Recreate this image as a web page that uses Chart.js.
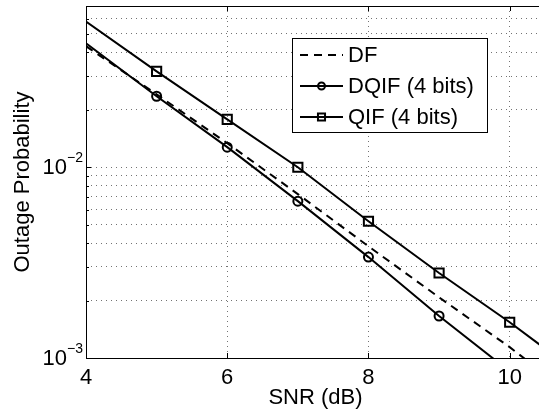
<!DOCTYPE html>
<html lang="en">
<head>
  <meta charset="UTF-8" />
  <title>Outage Probability vs SNR</title>
  <script src="https://cdn.jsdelivr.net/npm/chart.js"></script>
  <style>
    html, body { margin: 0; padding: 0; overflow: hidden; background: #fff; }
    #wrap { width: 539px; height: 416px; overflow: hidden; }
  </style>
</head>
<body>
  <div id="wrap"><canvas id="outageChart" width="545" height="416"></canvas></div>

  <script>
    // values
    const snr = [4, 5, 6, 7, 8, 9, 10, 10.5];
    const dfVals = [0.0431, 0.0241, 0.01337, 0.00723, 0.00385, 0.00208, 0.00114, 0.00082];
    const dqifVals = [0.0446, 0.02355, 0.01274, 0.00664, 0.00338, 0.00166, 0.00085, 0.00061];
    const qifVals = [0.058, 0.0318, 0.0178, 0.0100, 0.00521, 0.00279, 0.00154, 0.00112];
    const markerOn = [0, 1, 1, 1, 1, 1, 1, 0];

    const xTicks = [4, 6, 8, 10];
    const yTicks = [0.001, 0.002, 0.003, 0.004, 0.005, 0.006, 0.007, 0.008, 0.009,
                    0.01, 0.02, 0.03, 0.04, 0.05, 0.06, 0.07];
    const yDecades = [0.001, 0.01];
    const yExponents = ['\u22123', '\u22122'];

    const FONT = '"Liberation Sans", Arial, sans-serif';

    function pts(vals) {
      return snr.map((x, i) => ({ x: x, y: vals[i] }));
    }

    // frame, inward tick marks and 10^n labels
    const axesPlugin = {
      id: 'axesDeco',
      afterDraw(chart) {
        const ctx = chart.ctx;
        const a = chart.chartArea;
        const xs = chart.scales.x, ys = chart.scales.y;
        ctx.save();
        ctx.strokeStyle = '#000';
        ctx.lineWidth = 1;
        ctx.strokeRect(a.left + 0.5, a.top + 0.5, a.right - a.left - 1, a.bottom - a.top);

        ctx.beginPath();
        xTicks.forEach(v => {
          const px = Math.round(xs.getPixelForValue(v)) + 0.5;
          ctx.moveTo(px, a.bottom); ctx.lineTo(px, a.bottom - 5);
          ctx.moveTo(px, a.top); ctx.lineTo(px, a.top + 5);
        });
        yTicks.forEach(v => {
          const py = Math.round(ys.getPixelForValue(v)) + 0.5;
          const len = yDecades.includes(v) ? 5 : 3;
          ctx.moveTo(a.left, py); ctx.lineTo(a.left + len, py);
        });
        ctx.stroke();

        ctx.fillStyle = '#000';
        yDecades.forEach((v, i) => {
          const py = ys.getPixelForValue(v);
          ctx.font = '22px ' + FONT;
          ctx.textAlign = 'right';
          ctx.textBaseline = 'middle';
          ctx.fillText('10', 67, py + 1);
          ctx.font = '14px ' + FONT;
          ctx.textAlign = 'left';
          ctx.fillText(yExponents[i], 67, py - 9);
        });
        ctx.restore();
      }
    };

    // boxed legend inside the plot, upper right
    const legendPlugin = {
      id: 'boxLegend',
      afterDraw(chart) {
        const ctx = chart.ctx;
        const box = { x: 292, y: 38, w: 195, h: 94 };
        const rows = [55, 86, 117];
        ctx.save();
        ctx.fillStyle = '#fff';
        ctx.fillRect(box.x, box.y, box.w, box.h);
        ctx.strokeStyle = '#000';
        ctx.lineWidth = 1;
        ctx.strokeRect(box.x + 0.5, box.y + 0.5, box.w, box.h);

        chart.data.datasets.forEach((ds, i) => {
          const y = rows[i];
          ctx.strokeStyle = '#000';
          ctx.lineWidth = 2;
          ctx.setLineDash(ds.borderDash || []);
          ctx.beginPath();
          ctx.moveTo(300, y); ctx.lineTo(343, y);
          ctx.stroke();
          ctx.setLineDash([]);
          if (ds.pointStyle) {
            ctx.lineWidth = ds.pointBorderWidth;
            ctx.fillStyle = 'rgba(0,0,0,0)';
            Chart.helpers.drawPoint(ctx, {
              pointStyle: ds.pointStyle,
              radius: ds.legendRadius,
              rotation: 0,
              borderWidth: ds.pointBorderWidth
            }, 321.5, y);
          }
          ctx.fillStyle = '#000';
          ctx.font = '22px ' + FONT;
          ctx.textAlign = 'left';
          ctx.textBaseline = 'middle';
          ctx.fillText(ds.label, 348, y + 1);
        });
        ctx.restore();
      }
    };

    const ctx = document.getElementById('outageChart').getContext('2d');
    new Chart(ctx, {
      type: 'line',
      data: {
        datasets: [
          {
            label: 'DF',
            data: pts(dfVals),
            borderColor: '#000',
            borderWidth: 2,
            borderDash: [8, 6],
            pointRadius: 0,
            clip: 0
          },
          {
            label: 'DQIF (4 bits)',
            data: pts(dqifVals),
            borderColor: '#000',
            borderWidth: 2,
            pointStyle: 'circle',
            pointRadius: markerOn.map(m => m * 4.5),
            legendRadius: 3.5,
            pointBorderWidth: 2,
            pointBorderColor: '#000',
            pointBackgroundColor: 'rgba(0,0,0,0)',
            clip: 0
          },
          {
            label: 'QIF (4 bits)',
            data: pts(qifVals),
            borderColor: '#000',
            borderWidth: 2,
            pointStyle: 'rect',
            pointRadius: markerOn.map(m => m * 6.5),
            legendRadius: 5,
            pointBorderWidth: 2,
            pointBorderColor: '#000',
            pointBackgroundColor: 'rgba(0,0,0,0)',
            clip: 0
          }
        ]
      },
      options: {
        responsive: false,
        animation: false,
        layout: { padding: { top: 6, left: 0, right: 0, bottom: 0 } },
        plugins: {
          legend: { display: false },
          tooltip: { enabled: false }
        },
        elements: { line: { tension: 0 } },
        scales: {
          x: {
            type: 'linear',
            min: 4,
            max: 10.5,
            afterBuildTicks: s => { s.ticks = xTicks.map(v => ({ value: v })); },
            afterFit: s => { s.height = 58; },
            grid: { color: 'rgba(0,0,0,0.55)', drawTicks: false },
            border: { display: false, dash: [1, 4] },
            ticks: {
              padding: 7,
              color: '#000',
              font: { family: FONT, size: 22 },
              maxRotation: 0
            },
            title: {
              display: true,
              text: 'SNR (dB)',
              color: '#000',
              font: { family: FONT, size: 22 },
              padding: { top: 5, bottom: 5 }
            }
          },
          y: {
            type: 'logarithmic',
            min: 0.001,
            max: 0.07,
            afterBuildTicks: s => { s.ticks = yTicks.map(v => ({ value: v })); },
            afterFit: s => { s.width = 86; },
            grid: { color: 'rgba(0,0,0,0.55)', drawTicks: false },
            border: { display: false, dash: [1, 4] },
            ticks: { display: false },
            title: {
              display: true,
              text: 'Outage Probability',
              color: '#000',
              font: { family: FONT, size: 22 },
              padding: { top: 10, bottom: 0 }
            }
          }
        }
      },
      plugins: [axesPlugin, legendPlugin]
    });
  </script>
</body>
</html>
